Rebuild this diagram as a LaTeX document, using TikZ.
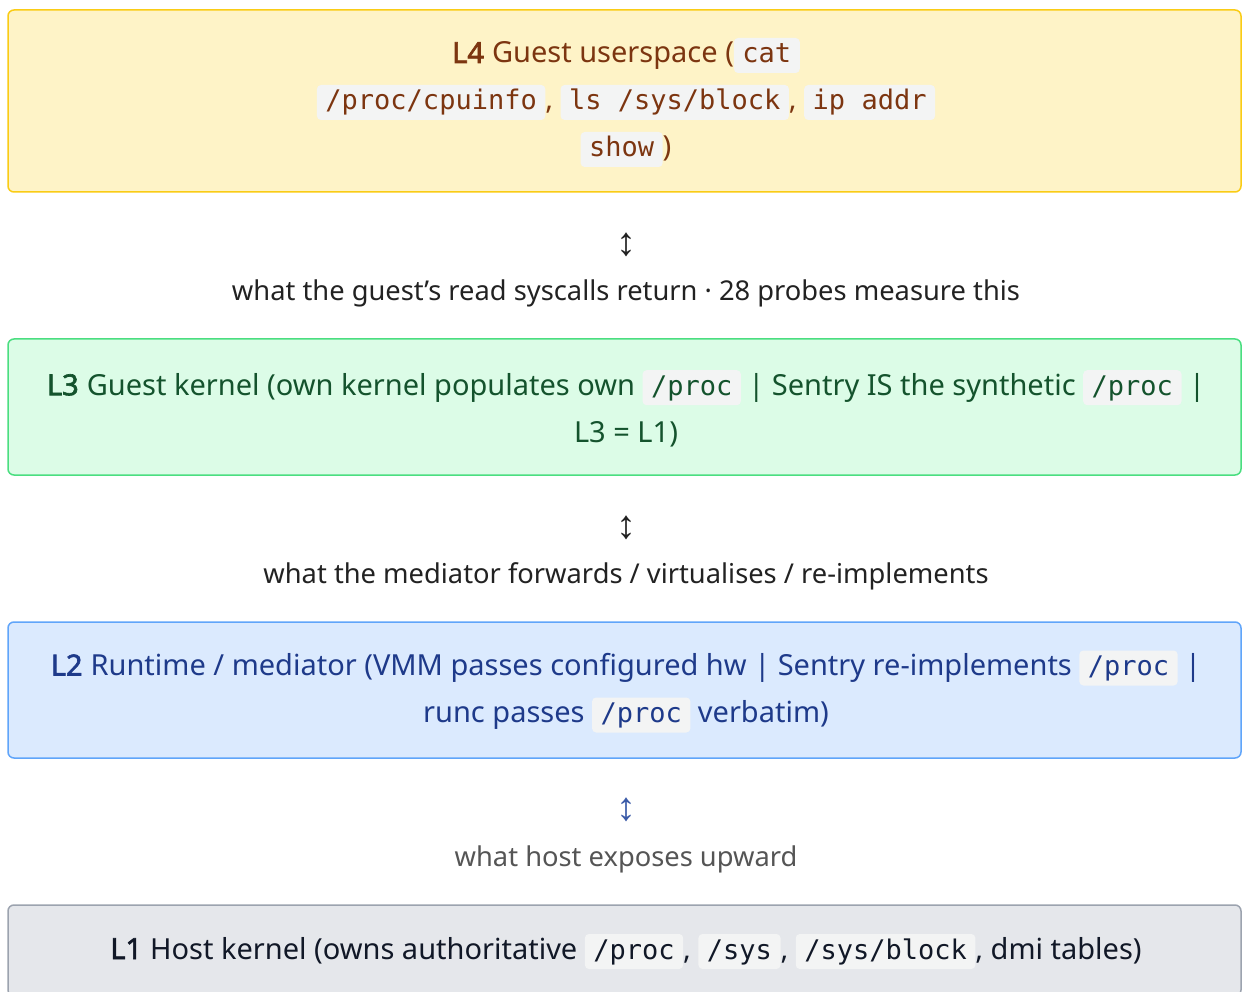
\documentclass[tikz,border=0pt]{standalone}
\usepackage{fontspec}
\setmainfont{Noto Sans}[AutoFakeBold=2.2]
\setmonofont{DejaVu Sans Mono}
\newfontfamily\symfont{Liberation Sans}
\definecolor{yfill}{HTML}{FEF3C7}
\definecolor{yline}{HTML}{FACC15}
\definecolor{ytext}{HTML}{7C3510}
\definecolor{gfill}{HTML}{DCFCE7}
\definecolor{gline}{HTML}{4ADE80}
\definecolor{gtext}{HTML}{14532D}
\definecolor{bfill}{HTML}{DBEAFE}
\definecolor{bline}{HTML}{60A5FA}
\definecolor{btext}{HTML}{1E3A8A}
\definecolor{kfill}{HTML}{E5E7EB}
\definecolor{kline}{HTML}{9CA3AF}
\definecolor{ktext}{HTML}{111827}
\definecolor{chipbg}{HTML}{F3F4F4}
\definecolor{lbltext}{HTML}{222222}
\definecolor{lblgray}{HTML}{555555}
\definecolor{arrblue}{HTML}{3B5BA8}
\tikzset{
  layer/.style={line width=1.5pt, rounded corners=6pt, inner sep=0pt, minimum width=1233pt},
  ltext/.style={align=center, inner sep=0pt, font=\fontsize{29}{47}\selectfont},
  chip/.style={fill=chipbg, draw=none, rounded corners=4pt, inner xsep=8.5pt, inner ysep=4pt,
    minimum width=0pt, minimum height=0pt, text height=21pt, text depth=6pt,
    font=\ttfamily\fontsize{27}{47}\selectfont},
  arr/.style={inner sep=0pt, font=\symfont\fontsize{40}{42}\selectfont, text=lbltext},
  lbl/.style={inner sep=0pt, font=\fontsize{27.3}{30}\selectfont, text=lbltext},
}
\newcommand\code[1]{\tikz[baseline=(cc.base)]\node[chip](cc){#1};}
\newcommand\lay[1]{\textbf{#1}\hspace{8pt}}
\begin{document}
\begin{tikzpicture}[x=1pt,y=-1pt]
\useasboundingbox (0,0) rectangle (1243,992);
\fill[white] (0,0) rectangle (1243,992);
% boxes
\node[layer, draw=yline, fill=yfill, minimum height=182pt] (b4) at (624.5,101) {};
\node[layer, draw=gline, fill=gfill, minimum height=136pt] (b3) at (624.5,407) {};
\node[layer, draw=bline, fill=bfill, minimum height=136pt] (b2) at (624.5,690) {};
\node[layer, draw=kline, fill=kfill, minimum height=91pt] (b1) at (624.5,950.5) {};
% texts
\node[ltext, text=ytext] (t4) at (626,102.5) {\lay{L4}Guest userspace (\code{cat}\\
\code{/proc/cpuinfo}, \code{ls /sys/block}, \code{ip addr}\\
\code{show})};
\node[ltext, text=gtext] (t3) at (626,408.5) {\lay{L3}Guest kernel (own kernel populates own \code{/proc} | Sentry IS the synthetic \code{/proc} |\\
L3 = L1)};
\node[ltext, text=btext] (t2) at (626,691.5) {\lay{L2}Runtime / mediator (VMM passes configured hw | Sentry re-implements \code{/proc} |\\
runc passes \code{/proc} verbatim)};
\node[ltext, text=ktext] (t1) at (626,951.5) {\lay{L1}Host kernel (owns authoritative \code{/proc}, \code{/sys}, \code{/sys/block}, dmi tables)};
% between-layer labels
\node[arr] (a43) at (626,245) {↕};
\node[lbl] (l43) at (626,293) {what the guest’s read syscalls return · 28 probes measure this};
\node[arr] (a32) at (626,528) {↕};
\node[lbl] (l32) at (626,576) {what the mediator forwards / virtualises / re-implements};
\node[arr, text=arrblue] (a21) at (626,810) {↕};
\node[lbl, text=lblgray] (l21) at (626,859) {what host exposes upward};
\end{tikzpicture}
\end{document}
